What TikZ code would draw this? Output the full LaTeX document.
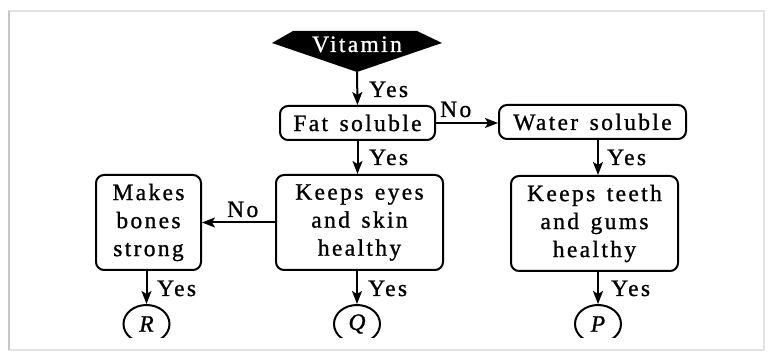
\documentclass[tikz,border=0pt]{standalone}
\usepackage{fontspec}
\setmainfont{Liberation Serif}[LetterSpace=10, FakeBold=1.0, WordSpace=1.4]
\usetikzlibrary{arrows.meta,shapes.geometric}
\newcommand{\fsz}{\fontsize{23.5}{28}\selectfont}
\tikzset{
  txt/.style={font=\fsz, inner sep=0pt},
  box/.style={draw, line width=2pt, rounded corners=8pt, align=center, inner sep=0pt,
              font=\fsz},
  arr/.style={line width=2pt, -{Stealth[length=13pt,width=10pt,inset=3pt]}},
  oval/.style={draw, ellipse, line width=2pt, minimum width=46pt, minimum height=38pt,
               inner sep=0pt, font=\fsz\itshape},
}
\begin{document}
\begin{tikzpicture}[x=1pt,y=-1pt]
\useasboundingbox (0,0) rectangle (769,352);
\fill[white] (0,0) rectangle (769,352);
\draw[gray!22, line width=1.5pt] (9,11) rectangle (764,350);
\draw[gray!45, line width=1.5pt] (9,11) -- (9,350);
% Vitamin
\fill[black] (293,31) -- (417,31) -- (442,43) -- (357,72) -- (272,43) -- cycle;
\coordinate (vtip) at (357,72);
\node[txt, text=white, anchor=base] (vit) at (357,52) {Vitamin};
% boxes
\node[box, minimum width=155pt, minimum height=34pt] (fat) at (357.5,123) {Fat soluble};
\node[box, minimum width=187pt, minimum height=34pt] (water) at (592.5,122) {Water soluble};
\node[box, minimum width=105pt, minimum height=95pt] (bones) at (148.5,222.5) {Makes\\bones\\strong};
\node[box, minimum width=167pt, minimum height=95pt] (eyes) at (359.5,222.5) {Keeps eyes\\and skin\\healthy};
\node[box, minimum width=167pt, minimum height=95pt] (teeth) at (594.5,223.5) {Keeps teeth\\and gums\\healthy};
% ovals (bottoms cut off)
\begin{scope}
\clip (0,0) rectangle (769,338);
\node[oval] (R) at (146.5,324) {R};
\node[oval] (Q) at (357,324) {Q};
\node[oval] (P) at (598,324) {P};
\end{scope}
% connectors
\draw[arr] (vtip) -- (fat.north);
\draw[arr] (fat.south) -- (fat.south |- eyes.north);
\draw[arr] (fat.east) -- (water.west |- fat.east);
\draw[arr] (eyes.west) -- (bones.east);
\draw[arr] (water.south -| P.north) -- (teeth.north -| P.north);
\draw[arr] (bones.south -| R.north) -- (R.north);
\draw[arr] (eyes.south -| Q.north) -- (Q.north);
\draw[arr] (teeth.south -| P.north) -- (P.north);
% labels
\node[txt, anchor=base west] (y1) at (369,97) {Yes};
\node[txt, anchor=base west] (y2) at (369,165) {Yes};
\node[txt, anchor=base west] (y3) at (607,165) {Yes};
\node[txt, anchor=base west] (y4) at (157,296) {Yes};
\node[txt, anchor=base west] (y5) at (368,296) {Yes};
\node[txt, anchor=base west] (y6) at (611,296) {Yes};
\node[txt, anchor=base west] (n1) at (440,117) {No};
\node[txt, anchor=base west] (n2) at (227,217) {No};
\end{tikzpicture}
\end{document}
